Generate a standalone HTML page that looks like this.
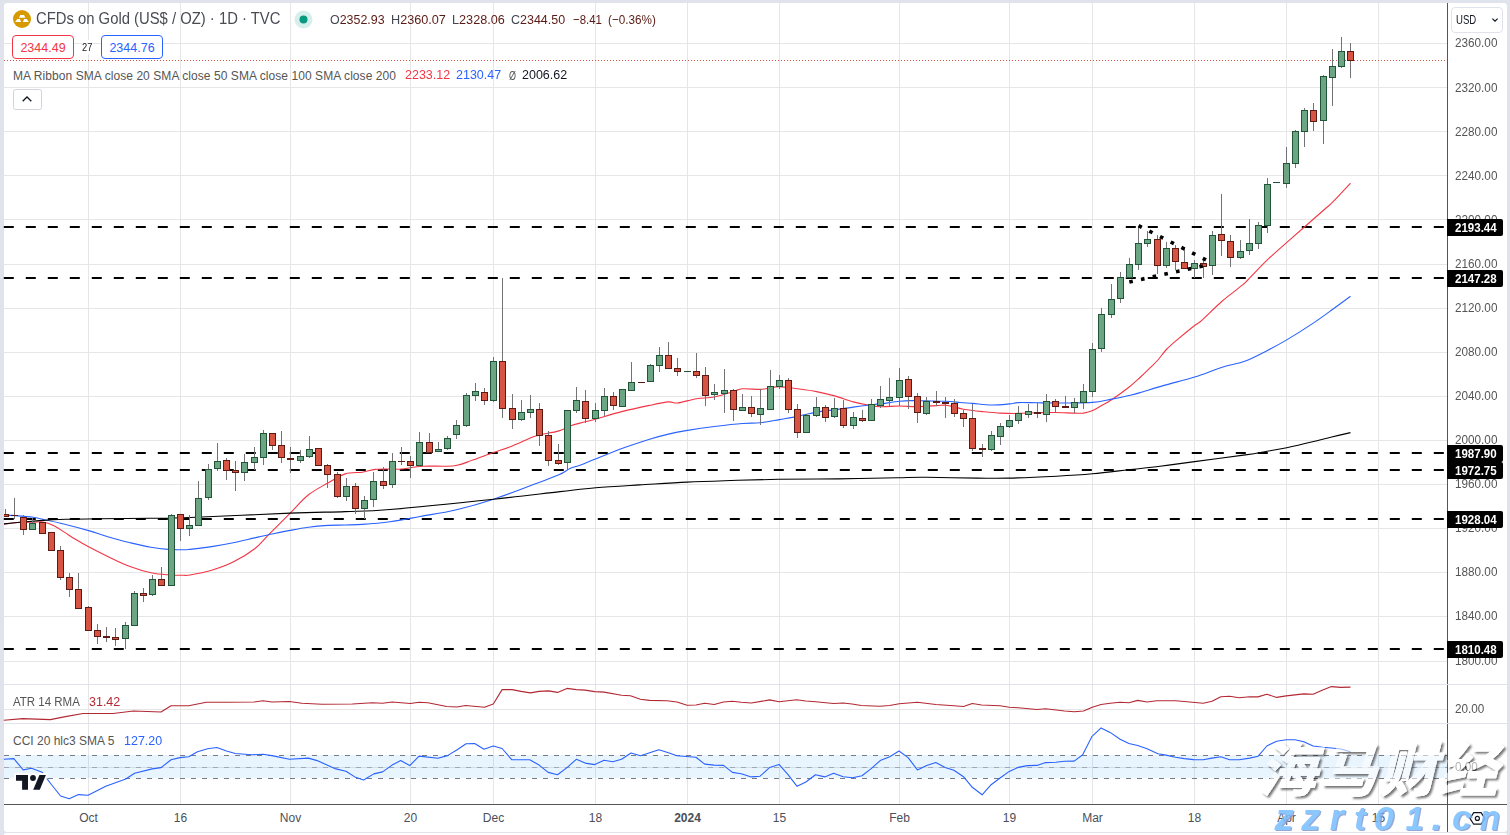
<!DOCTYPE html>
<html><head><meta charset="utf-8"><title>CFDs on Gold</title>
<style>
html,body{margin:0;padding:0}
body{width:1510px;height:835px;background:#e0e3eb;position:relative;overflow:hidden;font-family:"Liberation Sans",sans-serif;color:#131722}
#wrap{position:absolute;left:4px;top:3px;width:1503px;height:829px;background:#fff;border-radius:3px}
svg{position:absolute;left:0;top:0}
.pl{position:absolute;left:1455.4px;font-size:12px;line-height:16px;color:#555;white-space:nowrap;transform:scaleX(0.978);transform-origin:0 50%}
.lv{position:absolute;left:1447px;width:56px;height:17px;background:#000;color:#fff;font-size:12px;line-height:17px;font-weight:bold;text-align:left;border-radius:0 2px 2px 0;white-space:nowrap}
.lv span{display:inline-block;margin-left:8.4px;position:relative;top:0.7px;transform:scaleX(0.961);transform-origin:0 50%}
.tl{position:absolute;top:810px;width:60px;text-align:center;font-size:12px;line-height:16px;color:#4c4f59;white-space:nowrap}
.tl.b{font-weight:bold}
.v{color:#5b1a13}
.t{position:absolute;white-space:nowrap;transform-origin:0 50%}
</style></head><body>
<div id="wrap"></div><div style="position:absolute;left:4px;top:833px;width:1503px;height:2px;background:#fff;border-radius:3px 3px 0 0"></div>
<svg width="1510" height="835" viewBox="0 0 1510 835">
<rect x="88" y="3" width="1" height="801" fill="#e6e6e7"/>
<rect x="180" y="3" width="1" height="801" fill="#e6e6e7"/>
<rect x="290" y="3" width="1" height="801" fill="#e6e6e7"/>
<rect x="410" y="3" width="1" height="801" fill="#e6e6e7"/>
<rect x="493" y="3" width="1" height="801" fill="#e6e6e7"/>
<rect x="595" y="3" width="1" height="801" fill="#e6e6e7"/>
<rect x="687" y="3" width="1" height="801" fill="#e6e6e7"/>
<rect x="779" y="3" width="1" height="801" fill="#e6e6e7"/>
<rect x="899" y="3" width="1" height="801" fill="#e6e6e7"/>
<rect x="1009" y="3" width="1" height="801" fill="#e6e6e7"/>
<rect x="1092" y="3" width="1" height="801" fill="#e6e6e7"/>
<rect x="1194" y="3" width="1" height="801" fill="#e6e6e7"/>
<rect x="1286" y="3" width="1" height="801" fill="#e6e6e7"/>
<rect x="1378" y="3" width="1" height="801" fill="#e6e6e7"/>
<rect x="4" y="661" width="1443" height="1" fill="#e6e6e7"/>
<rect x="4" y="616" width="1443" height="1" fill="#e6e6e7"/>
<rect x="4" y="572" width="1443" height="1" fill="#e6e6e7"/>
<rect x="4" y="528" width="1443" height="1" fill="#e6e6e7"/>
<rect x="4" y="484" width="1443" height="1" fill="#e6e6e7"/>
<rect x="4" y="440" width="1443" height="1" fill="#e6e6e7"/>
<rect x="4" y="396" width="1443" height="1" fill="#e6e6e7"/>
<rect x="4" y="352" width="1443" height="1" fill="#e6e6e7"/>
<rect x="4" y="308" width="1443" height="1" fill="#e6e6e7"/>
<rect x="4" y="264" width="1443" height="1" fill="#e6e6e7"/>
<rect x="4" y="219" width="1443" height="1" fill="#e6e6e7"/>
<rect x="4" y="175" width="1443" height="1" fill="#e6e6e7"/>
<rect x="4" y="131" width="1443" height="1" fill="#e6e6e7"/>
<rect x="4" y="87" width="1443" height="1" fill="#e6e6e7"/>
<rect x="4" y="43" width="1443" height="1" fill="#e6e6e7"/>
<rect x="4" y="709" width="1443" height="1" fill="#e6e6e7"/>
<rect x="4" y="767" width="1443" height="1" fill="#e6e6e7"/>
<rect x="4" y="755" width="1443" height="22.9" fill="#2196f3" fill-opacity="0.1"/>
<line x1="4" y1="755.5" x2="1447" y2="755.5" stroke="#787b86" stroke-opacity="1" stroke-width="1" stroke-dasharray="5 6"/>
<line x1="4" y1="767.5" x2="1447" y2="767.5" stroke="#787b86" stroke-opacity="0.55" stroke-width="1" stroke-dasharray="5 6"/>
<line x1="4" y1="778.5" x2="1447" y2="778.5" stroke="#787b86" stroke-opacity="1" stroke-width="1" stroke-dasharray="5 6"/>
<rect x="4" y="684" width="1503" height="1" fill="#e0e3eb"/>
<rect x="4" y="723" width="1503" height="1" fill="#e0e3eb"/>
<line x1="4" y1="60.5" x2="1447" y2="60.5" stroke="#d75442" stroke-width="1" stroke-dasharray="1 2"/>
<line x1="3.8" y1="227" x2="1447" y2="227" stroke="#000" stroke-width="2" stroke-dasharray="10 12"/>
<line x1="3.8" y1="278" x2="1447" y2="278" stroke="#000" stroke-width="2" stroke-dasharray="10 12"/>
<line x1="3.8" y1="453" x2="1447" y2="453" stroke="#000" stroke-width="2" stroke-dasharray="10 12"/>
<line x1="3.8" y1="470" x2="1447" y2="470" stroke="#000" stroke-width="2" stroke-dasharray="10 12"/>
<line x1="3.8" y1="519" x2="1447" y2="519" stroke="#000" stroke-width="2" stroke-dasharray="10 12"/>
<line x1="3.8" y1="649" x2="1447" y2="649" stroke="#000" stroke-width="2" stroke-dasharray="10 12"/>
<path d="M4.0,524.2C6.7,523.9 15.2,522.6 20.0,522.3C24.8,522.0 29.1,522.2 33.0,522.2C36.9,522.2 39.6,521.4 43.1,522.0C46.6,522.6 50.3,524.0 53.9,525.7C57.5,527.4 61.1,530.1 64.7,532.4C68.3,534.7 71.4,536.9 75.4,539.3C79.4,541.7 83.2,543.9 88.6,546.8C94.0,549.7 101.0,553.3 107.8,556.5C114.6,559.7 122.1,563.5 129.3,566.2C136.5,568.9 144.4,571.3 150.9,572.7C157.4,574.1 162.7,574.4 168.1,574.8C173.5,575.2 179.5,575.3 183.2,575.3C186.8,575.3 185.3,575.8 190.0,575.0C194.7,574.2 204.4,572.4 211.6,570.3C218.8,568.1 225.9,565.7 233.1,562.1C240.3,558.5 248.8,553.3 254.7,548.7C260.6,544.1 262.8,540.6 268.7,534.7C274.6,528.8 283.6,519.8 290.2,513.1C296.8,506.5 302.2,499.8 308.5,494.8C314.8,489.8 321.8,486.5 327.9,483.0C334.0,479.5 339.4,475.7 345.2,473.9C350.9,472.1 357.4,472.9 362.4,472.2C367.4,471.4 370.7,469.9 375.3,469.4C379.9,468.9 385.6,469.1 390.0,469.0C394.4,468.9 396.1,469.5 401.6,469.0C407.1,468.5 414.3,466.7 423.1,466.2C431.9,465.7 446.1,466.8 454.4,465.8C462.7,464.8 466.2,462.2 472.7,460.0C479.2,457.8 487.0,454.7 493.6,452.4C500.2,450.1 506.1,448.4 512.3,446.0C518.5,443.6 526.4,439.6 530.9,437.8C535.4,436.0 534.8,436.1 539.5,435.0C544.2,433.9 553.8,432.4 558.9,430.9C564.0,429.4 566.5,427.4 570.0,426.1C573.5,424.8 575.8,424.2 580.0,423.1C584.2,422.0 588.3,421.1 595.4,419.2C602.5,417.2 613.4,413.7 622.6,411.4C631.8,409.1 642.8,406.8 650.4,405.2C658.0,403.6 664.0,402.3 668.5,401.9C673.0,401.5 672.8,403.5 677.5,403.0C682.2,402.5 690.4,399.7 696.5,398.7C702.6,397.7 708.2,398.2 714.4,397.0C720.5,395.8 728.7,393.0 733.4,391.6C738.1,390.2 737.9,389.2 742.4,388.8C746.9,388.4 755.9,389.5 760.5,389.4C765.1,389.2 766.9,388.4 770.0,387.9C773.1,387.4 774.8,386.5 779.4,386.6C784.0,386.8 791.3,388.0 797.5,388.8C803.7,389.6 810.3,390.4 816.5,391.6C822.7,392.8 828.5,394.2 834.6,395.9C840.7,397.6 847.8,400.4 853.3,401.9C858.8,403.4 863.3,404.2 867.8,405.0C872.3,405.8 875.2,406.5 880.5,406.7C885.8,406.9 893.2,406.0 899.4,406.0C905.6,406.0 911.3,406.8 917.5,406.7C923.7,406.6 931.8,405.9 936.5,405.6C941.2,405.4 942.5,405.0 945.6,405.2C948.7,405.4 952.0,406.3 955.0,407.0C958.0,407.7 958.9,408.5 963.4,409.3C967.9,410.1 976.1,411.0 982.3,411.6C988.5,412.2 994.4,412.8 1000.4,413.1C1006.4,413.4 1012.3,413.5 1018.5,413.4C1024.7,413.3 1031.3,412.8 1037.5,412.7C1043.7,412.6 1049.4,412.4 1055.6,412.5C1061.8,412.6 1069.9,413.0 1074.6,413.1C1079.3,413.2 1080.6,413.5 1083.6,413.1C1086.6,412.7 1089.7,411.9 1092.7,410.6C1095.7,409.4 1098.6,407.4 1101.7,405.6C1104.8,403.8 1107.1,402.9 1111.6,399.8C1116.1,396.8 1124.2,391.0 1128.9,387.3C1133.6,383.6 1136.5,380.7 1140.0,377.5C1143.5,374.3 1147.0,370.8 1150.0,367.9C1153.0,365.0 1155.2,363.1 1157.9,360.0C1160.6,356.9 1163.4,352.7 1166.4,349.5C1169.5,346.3 1171.5,344.6 1176.2,340.6C1180.9,336.6 1190.3,328.9 1194.6,325.5C1198.9,322.1 1197.6,324.1 1202.1,320.1C1206.6,316.1 1215.3,307.1 1221.7,301.5C1228.1,295.9 1236.1,290.3 1240.4,286.7C1244.8,283.1 1243.3,284.5 1247.8,280.0C1252.3,275.5 1260.6,266.4 1267.6,259.7C1274.6,253.0 1280.6,248.0 1290.0,239.7C1299.4,231.4 1316.7,216.2 1323.8,210.0C1330.8,203.8 1327.9,206.9 1332.4,202.4C1336.9,197.9 1347.5,186.4 1350.5,183.2" fill="none" stroke="#f23645" stroke-width="1.1"/>
<path d="M4.0,515.0C5.8,515.1 10.2,515.2 15.0,515.6C19.8,516.0 28.3,516.7 33.0,517.3C37.7,517.9 37.8,518.2 43.1,519.4C48.4,520.5 57.1,522.3 64.7,524.2C72.3,526.1 81.4,528.5 88.6,530.6C95.8,532.7 101.0,534.7 107.8,536.7C114.6,538.7 122.1,540.8 129.3,542.5C136.5,544.2 144.4,546.1 150.9,547.2C157.4,548.4 162.7,549.0 168.1,549.4C173.5,549.8 179.5,549.8 183.2,549.8C186.8,549.8 185.3,549.9 190.0,549.4C194.7,548.9 204.4,547.7 211.6,546.6C218.8,545.5 225.9,544.2 233.1,542.7C240.3,541.2 248.8,539.2 254.7,537.9C260.6,536.6 262.8,536.0 268.7,534.7C274.6,533.5 283.6,531.6 290.2,530.4C296.8,529.1 302.2,528.0 308.5,527.2C314.8,526.4 321.8,525.8 327.9,525.4C334.0,525.0 339.4,525.2 345.2,525.0C350.9,524.8 354.9,524.9 362.4,524.4C369.9,523.9 380.4,523.1 390.0,521.8C399.6,520.5 409.1,518.5 420.0,516.5C430.9,514.5 443.1,512.9 455.4,510.0C467.7,507.1 481.0,503.3 493.6,499.2C506.2,495.1 520.0,489.7 530.9,485.6C541.8,481.5 552.4,477.7 558.9,474.8C565.4,471.9 566.5,470.1 570.0,468.5C573.5,466.9 575.8,466.9 580.0,465.3C584.2,463.7 588.3,461.9 595.4,459.1C602.5,456.3 613.4,451.7 622.6,448.3C631.8,444.9 642.8,441.4 650.4,439.0C658.0,436.6 662.3,435.5 668.5,434.1C674.7,432.7 679.9,431.7 687.5,430.4C695.1,429.1 705.2,427.6 714.4,426.5C723.5,425.4 734.8,424.1 742.4,423.5C750.0,422.9 753.8,423.4 760.0,422.8C766.2,422.2 773.1,420.7 779.4,419.6C785.6,418.5 791.3,417.6 797.5,416.4C803.7,415.1 810.3,413.2 816.5,412.1C822.7,411.0 828.5,410.7 834.6,409.9C840.7,409.1 847.8,407.9 853.3,407.1C858.8,406.3 863.3,405.7 867.8,405.2C872.3,404.7 875.2,404.5 880.5,403.9C885.8,403.2 894.3,401.9 899.4,401.3C904.5,400.8 906.4,400.7 910.9,400.6C915.4,400.5 920.8,400.8 926.6,400.9C932.4,401.0 940.0,401.0 945.6,401.3C951.2,401.6 955.5,402.1 960.0,402.5C964.5,402.9 967.4,403.0 972.6,403.4C977.8,403.8 985.2,404.9 991.4,405.0C997.5,405.1 1005.0,404.3 1009.5,403.9C1014.0,403.5 1013.8,402.8 1018.5,402.6C1023.2,402.4 1029.7,402.7 1037.5,402.8C1045.3,402.9 1056.3,403.1 1065.5,403.0C1074.7,402.9 1085.0,403.0 1092.7,402.4C1100.4,401.8 1105.6,400.2 1111.6,399.1C1117.6,398.0 1124.2,396.6 1128.9,395.5C1133.6,394.4 1134.2,394.3 1140.0,392.6C1145.8,390.9 1154.9,388.0 1164.0,385.4C1173.1,382.8 1185.0,380.1 1194.6,377.1C1204.2,374.1 1213.0,370.2 1221.5,367.5C1230.0,364.8 1237.8,363.8 1245.4,361.0C1253.0,358.2 1260.1,354.2 1267.0,350.7C1273.9,347.2 1279.1,344.4 1286.7,339.9C1294.3,335.4 1305.0,328.6 1312.5,323.6C1320.0,318.6 1325.4,314.6 1331.7,310.0C1338.0,305.4 1347.4,298.6 1350.5,296.3" fill="none" stroke="#2962ff" stroke-width="1.1"/>
<path d="M4.0,523.9C6.7,523.6 14.1,522.8 20.0,522.3C25.9,521.8 31.9,521.1 39.5,520.6C47.1,520.1 55.7,519.6 65.8,519.3C75.9,519.0 86.0,519.0 100.0,518.8C114.0,518.6 135.0,518.5 150.0,518.3C165.0,518.1 166.6,518.4 190.0,517.5C213.4,516.6 264.3,514.1 290.2,513.1C316.1,512.1 328.6,512.2 345.2,511.6C361.8,511.0 365.3,511.6 390.0,509.5C414.7,507.4 465.3,502.2 493.6,499.2C521.9,496.2 543.0,493.5 560.0,491.6C577.0,489.7 582.5,488.8 595.8,487.7C609.0,486.6 624.3,485.8 639.5,484.9C654.7,484.0 671.9,482.8 687.1,482.1C702.3,481.4 715.6,481.0 730.8,480.5C746.0,480.0 760.6,479.6 778.5,479.3C796.4,479.0 818.2,479.2 838.1,478.9C858.0,478.6 883.1,478.0 897.7,477.7C912.3,477.4 912.2,477.2 925.5,477.3C938.8,477.4 963.3,478.0 977.2,478.1C991.1,478.2 995.8,478.4 1009.0,478.1C1022.2,477.8 1042.7,476.9 1056.6,476.2C1070.5,475.5 1080.5,474.9 1092.4,473.8C1104.3,472.7 1116.8,471.1 1128.1,469.8C1139.4,468.5 1148.9,467.6 1160.0,466.2C1171.1,464.8 1180.4,463.5 1194.6,461.6C1208.8,459.7 1233.3,456.6 1245.4,454.9C1257.5,453.2 1260.1,452.5 1267.0,451.3C1273.9,450.1 1279.1,449.3 1286.7,447.7C1294.3,446.1 1305.0,443.6 1312.5,441.8C1320.0,440.0 1325.4,438.5 1331.7,437.0C1338.0,435.5 1347.4,433.3 1350.5,432.6" fill="none" stroke="#000" stroke-width="1.1"/>
<path d="M5.5,509V517M14.5,498V519M23.5,515V535M32.5,518V530M42.5,522V534M51.5,532V551M60.5,546V580M69.5,573V597M78.5,573V609M88.5,606V631M97.5,624V644M106.5,627V642M115.5,628V646M125.5,622V649M134.5,591V626M143.5,588V602M152.5,575V596M161.5,567V586M171.5,514V586M180.5,514V541M189.5,515V536M198.5,481V526M208.5,464V500M217.5,443V471M226.5,458V480M235.5,461V491M244.5,454V481M254.5,447V470M263.5,430V465M272.5,433V450M281.5,431V463M290.5,447V473M300.5,450V463M309.5,436V458M318.5,448V466M327.5,464V488M337.5,472V498M346.5,478V501M355.5,483V514M364.5,496V519M373.5,472V507M383.5,467V489M392.5,453V488M401.5,447V465M410.5,456V478M419.5,432V466M429.5,433V453M438.5,442V452M447.5,436V450M456.5,420V439M466.5,393V427M475.5,383V401M484.5,388V405M493.5,357V402M502.5,278V418M512.5,394V429M521.5,400V421M530.5,395V418M539.5,403V446M548.5,431V466M558.5,444V465M567.5,410V470M576.5,387V413M585.5,390V423M595.5,403V422M604.5,388V416M613.5,392V410M622.5,389V407M631.5,362V391M641.5,382V383M650.5,364V382M659.5,347V372M668.5,342V369M677.5,358V376M687.5,371V372M696.5,353V378M705.5,367V406M714.5,384V400M724.5,369V413M733.5,389V421M742.5,394V411M751.5,396V417M760.5,389V425M770.5,370V410M779.5,375V389M788.5,378V413M797.5,404V438M806.5,414V433M816.5,397V417M825.5,405V422M834.5,398V418M843.5,400V428M853.5,412V429M862.5,410V422M871.5,399V421M880.5,386V408M889.5,378V406M899.5,368V406M908.5,376V409M917.5,393V423M926.5,397V415M936.5,391V406M945.5,397V418M954.5,399V417M963.5,410V427M972.5,404V451M982.5,444V457M991.5,431V451M1000.5,423V445M1009.5,415V428M1018.5,406V424M1028.5,404V418M1037.5,402V418M1046.5,394V422M1055.5,399V412M1065.5,396V408M1074.5,398V413M1083.5,384V409M1092.5,343V397M1101.5,308V352M1111.5,284V318M1120.5,272V303M1129.5,258V278M1138.5,226V270M1147.5,231V247M1157.5,235V274M1166.5,242V268M1175.5,245V270M1184.5,248V269M1194.5,260V278M1203.5,259V278M1212.5,231V275M1221.5,194V256M1230.5,235V267M1240.5,240V259M1249.5,219V255M1258.5,222V249M1267.5,178V233M1276.5,182V183M1286.5,147V188M1295.5,130V168M1304.5,108V147M1313.5,103V131M1323.5,75V144M1332.5,49V106M1341.5,37V68M1350.5,43V78" stroke="#737375" stroke-width="1" fill="none"/>
<rect x="4" y="514" width="5" height="3" fill="#5b1a13"/>
<rect x="11" y="515" width="7" height="1" fill="#5b1a13"/>
<rect x="20" y="517" width="7" height="13" fill="#5b1a13"/>
<rect x="29" y="523" width="7" height="7" fill="#225437"/>
<rect x="39" y="522" width="7" height="12" fill="#5b1a13"/>
<rect x="48" y="532" width="7" height="19" fill="#5b1a13"/>
<rect x="57" y="550" width="7" height="28" fill="#5b1a13"/>
<rect x="66" y="577" width="7" height="13" fill="#5b1a13"/>
<rect x="75" y="589" width="7" height="20" fill="#5b1a13"/>
<rect x="85" y="607" width="7" height="24" fill="#5b1a13"/>
<rect x="94" y="630" width="7" height="7" fill="#5b1a13"/>
<rect x="103" y="636" width="7" height="2" fill="#5b1a13"/>
<rect x="112" y="637" width="7" height="3" fill="#5b1a13"/>
<rect x="122" y="625" width="7" height="14" fill="#225437"/>
<rect x="131" y="593" width="7" height="33" fill="#225437"/>
<rect x="140" y="593" width="7" height="3" fill="#5b1a13"/>
<rect x="149" y="579" width="7" height="16" fill="#225437"/>
<rect x="158" y="579" width="7" height="7" fill="#5b1a13"/>
<rect x="168" y="515" width="7" height="71" fill="#225437"/>
<rect x="177" y="514" width="7" height="15" fill="#5b1a13"/>
<rect x="186" y="525" width="7" height="4" fill="#225437"/>
<rect x="195" y="498" width="7" height="28" fill="#225437"/>
<rect x="205" y="469" width="7" height="29" fill="#225437"/>
<rect x="214" y="461" width="7" height="8" fill="#225437"/>
<rect x="223" y="460" width="7" height="11" fill="#5b1a13"/>
<rect x="232" y="470" width="7" height="3" fill="#5b1a13"/>
<rect x="241" y="462" width="7" height="11" fill="#225437"/>
<rect x="251" y="457" width="7" height="6" fill="#225437"/>
<rect x="260" y="433" width="7" height="25" fill="#225437"/>
<rect x="269" y="433" width="7" height="13" fill="#5b1a13"/>
<rect x="278" y="445" width="7" height="13" fill="#5b1a13"/>
<rect x="287" y="458" width="7" height="2" fill="#5b1a13"/>
<rect x="297" y="456" width="7" height="5" fill="#225437"/>
<rect x="306" y="449" width="7" height="8" fill="#225437"/>
<rect x="315" y="448" width="7" height="18" fill="#5b1a13"/>
<rect x="324" y="465" width="7" height="10" fill="#5b1a13"/>
<rect x="334" y="474" width="7" height="23" fill="#5b1a13"/>
<rect x="343" y="486" width="7" height="11" fill="#225437"/>
<rect x="352" y="486" width="7" height="23" fill="#5b1a13"/>
<rect x="361" y="500" width="7" height="9" fill="#225437"/>
<rect x="370" y="481" width="7" height="19" fill="#225437"/>
<rect x="380" y="481" width="7" height="5" fill="#5b1a13"/>
<rect x="389" y="461" width="7" height="24" fill="#225437"/>
<rect x="398" y="461" width="7" height="1" fill="#5b1a13"/>
<rect x="407" y="461" width="7" height="5" fill="#5b1a13"/>
<rect x="416" y="442" width="7" height="24" fill="#225437"/>
<rect x="426" y="442" width="7" height="11" fill="#5b1a13"/>
<rect x="435" y="449" width="7" height="3" fill="#225437"/>
<rect x="444" y="438" width="7" height="11" fill="#225437"/>
<rect x="453" y="425" width="7" height="10" fill="#225437"/>
<rect x="463" y="395" width="7" height="31" fill="#225437"/>
<rect x="472" y="391" width="7" height="5" fill="#225437"/>
<rect x="481" y="392" width="7" height="9" fill="#5b1a13"/>
<rect x="490" y="361" width="7" height="40" fill="#225437"/>
<rect x="499" y="361" width="7" height="48" fill="#5b1a13"/>
<rect x="509" y="408" width="7" height="12" fill="#5b1a13"/>
<rect x="518" y="412" width="7" height="8" fill="#225437"/>
<rect x="527" y="409" width="7" height="4" fill="#225437"/>
<rect x="536" y="409" width="7" height="27" fill="#5b1a13"/>
<rect x="545" y="435" width="7" height="26" fill="#5b1a13"/>
<rect x="555" y="460" width="7" height="4" fill="#5b1a13"/>
<rect x="564" y="410" width="7" height="53" fill="#225437"/>
<rect x="573" y="400" width="7" height="11" fill="#225437"/>
<rect x="582" y="401" width="7" height="18" fill="#5b1a13"/>
<rect x="592" y="410" width="7" height="9" fill="#225437"/>
<rect x="601" y="396" width="7" height="15" fill="#225437"/>
<rect x="610" y="396" width="7" height="10" fill="#5b1a13"/>
<rect x="619" y="389" width="7" height="18" fill="#225437"/>
<rect x="628" y="382" width="7" height="9" fill="#225437"/>
<rect x="638" y="382" width="7" height="1" fill="#5b1a13"/>
<rect x="647" y="365" width="7" height="17" fill="#225437"/>
<rect x="656" y="355" width="7" height="11" fill="#225437"/>
<rect x="665" y="355" width="7" height="14" fill="#5b1a13"/>
<rect x="674" y="368" width="7" height="4" fill="#5b1a13"/>
<rect x="684" y="371" width="7" height="1" fill="#225437"/>
<rect x="693" y="371" width="7" height="5" fill="#5b1a13"/>
<rect x="702" y="375" width="7" height="21" fill="#5b1a13"/>
<rect x="711" y="392" width="7" height="3" fill="#225437"/>
<rect x="721" y="390" width="7" height="4" fill="#225437"/>
<rect x="730" y="390" width="7" height="20" fill="#5b1a13"/>
<rect x="739" y="407" width="7" height="4" fill="#225437"/>
<rect x="748" y="407" width="7" height="7" fill="#5b1a13"/>
<rect x="757" y="408" width="7" height="7" fill="#225437"/>
<rect x="767" y="386" width="7" height="24" fill="#225437"/>
<rect x="776" y="380" width="7" height="7" fill="#225437"/>
<rect x="785" y="380" width="7" height="30" fill="#5b1a13"/>
<rect x="794" y="409" width="7" height="24" fill="#5b1a13"/>
<rect x="803" y="415" width="7" height="18" fill="#225437"/>
<rect x="813" y="407" width="7" height="9" fill="#225437"/>
<rect x="822" y="407" width="7" height="11" fill="#5b1a13"/>
<rect x="831" y="408" width="7" height="9" fill="#225437"/>
<rect x="840" y="408" width="7" height="18" fill="#5b1a13"/>
<rect x="850" y="417" width="7" height="9" fill="#225437"/>
<rect x="859" y="418" width="7" height="3" fill="#5b1a13"/>
<rect x="868" y="404" width="7" height="17" fill="#225437"/>
<rect x="877" y="399" width="7" height="7" fill="#225437"/>
<rect x="886" y="397" width="7" height="4" fill="#225437"/>
<rect x="896" y="380" width="7" height="18" fill="#225437"/>
<rect x="905" y="379" width="7" height="18" fill="#5b1a13"/>
<rect x="914" y="396" width="7" height="17" fill="#5b1a13"/>
<rect x="923" y="401" width="7" height="13" fill="#225437"/>
<rect x="933" y="401" width="7" height="2" fill="#5b1a13"/>
<rect x="942" y="402" width="7" height="2" fill="#5b1a13"/>
<rect x="951" y="403" width="7" height="11" fill="#5b1a13"/>
<rect x="960" y="413" width="7" height="6" fill="#5b1a13"/>
<rect x="969" y="418" width="7" height="31" fill="#5b1a13"/>
<rect x="979" y="448" width="7" height="2" fill="#5b1a13"/>
<rect x="988" y="435" width="7" height="15" fill="#225437"/>
<rect x="997" y="426" width="7" height="11" fill="#225437"/>
<rect x="1006" y="420" width="7" height="7" fill="#225437"/>
<rect x="1015" y="413" width="7" height="8" fill="#225437"/>
<rect x="1025" y="411" width="7" height="4" fill="#225437"/>
<rect x="1034" y="412" width="7" height="2" fill="#5b1a13"/>
<rect x="1043" y="401" width="7" height="14" fill="#225437"/>
<rect x="1052" y="401" width="7" height="6" fill="#5b1a13"/>
<rect x="1062" y="406" width="7" height="2" fill="#5b1a13"/>
<rect x="1071" y="402" width="7" height="6" fill="#225437"/>
<rect x="1080" y="391" width="7" height="12" fill="#225437"/>
<rect x="1089" y="349" width="7" height="43" fill="#225437"/>
<rect x="1098" y="314" width="7" height="35" fill="#225437"/>
<rect x="1108" y="299" width="7" height="16" fill="#225437"/>
<rect x="1117" y="277" width="7" height="22" fill="#225437"/>
<rect x="1126" y="264" width="7" height="14" fill="#225437"/>
<rect x="1135" y="243" width="7" height="22" fill="#225437"/>
<rect x="1144" y="239" width="7" height="5" fill="#225437"/>
<rect x="1154" y="239" width="7" height="27" fill="#5b1a13"/>
<rect x="1163" y="248" width="7" height="18" fill="#225437"/>
<rect x="1172" y="248" width="7" height="14" fill="#5b1a13"/>
<rect x="1181" y="262" width="7" height="7" fill="#5b1a13"/>
<rect x="1191" y="263" width="7" height="6" fill="#225437"/>
<rect x="1200" y="263" width="7" height="4" fill="#5b1a13"/>
<rect x="1209" y="235" width="7" height="31" fill="#225437"/>
<rect x="1218" y="234" width="7" height="7" fill="#5b1a13"/>
<rect x="1227" y="241" width="7" height="17" fill="#5b1a13"/>
<rect x="1237" y="251" width="7" height="7" fill="#225437"/>
<rect x="1246" y="243" width="7" height="8" fill="#225437"/>
<rect x="1255" y="225" width="7" height="19" fill="#225437"/>
<rect x="1264" y="184" width="7" height="42" fill="#225437"/>
<rect x="1273" y="182" width="7" height="1" fill="#225437"/>
<rect x="1283" y="163" width="7" height="21" fill="#225437"/>
<rect x="1292" y="131" width="7" height="33" fill="#225437"/>
<rect x="1301" y="110" width="7" height="22" fill="#225437"/>
<rect x="1310" y="110" width="7" height="12" fill="#5b1a13"/>
<rect x="1320" y="76" width="7" height="45" fill="#225437"/>
<rect x="1329" y="66" width="7" height="12" fill="#225437"/>
<rect x="1338" y="51" width="7" height="16" fill="#225437"/>
<rect x="1347" y="51" width="7" height="10" fill="#5b1a13"/>
<rect x="4" y="515" width="4" height="1" fill="#d75442"/>
<rect x="21" y="518" width="5" height="11" fill="#d75442"/>
<rect x="30" y="524" width="5" height="5" fill="#6ba583"/>
<rect x="40" y="523" width="5" height="10" fill="#d75442"/>
<rect x="49" y="533" width="5" height="17" fill="#d75442"/>
<rect x="58" y="551" width="5" height="26" fill="#d75442"/>
<rect x="67" y="578" width="5" height="11" fill="#d75442"/>
<rect x="76" y="590" width="5" height="18" fill="#d75442"/>
<rect x="86" y="608" width="5" height="22" fill="#d75442"/>
<rect x="95" y="631" width="5" height="5" fill="#d75442"/>
<rect x="113" y="638" width="5" height="1" fill="#d75442"/>
<rect x="123" y="626" width="5" height="12" fill="#6ba583"/>
<rect x="132" y="594" width="5" height="31" fill="#6ba583"/>
<rect x="141" y="594" width="5" height="1" fill="#d75442"/>
<rect x="150" y="580" width="5" height="14" fill="#6ba583"/>
<rect x="159" y="580" width="5" height="5" fill="#d75442"/>
<rect x="169" y="516" width="5" height="69" fill="#6ba583"/>
<rect x="178" y="515" width="5" height="13" fill="#d75442"/>
<rect x="187" y="526" width="5" height="2" fill="#6ba583"/>
<rect x="196" y="499" width="5" height="26" fill="#6ba583"/>
<rect x="206" y="470" width="5" height="27" fill="#6ba583"/>
<rect x="215" y="462" width="5" height="6" fill="#6ba583"/>
<rect x="224" y="461" width="5" height="9" fill="#d75442"/>
<rect x="233" y="471" width="5" height="1" fill="#d75442"/>
<rect x="242" y="463" width="5" height="9" fill="#6ba583"/>
<rect x="252" y="458" width="5" height="4" fill="#6ba583"/>
<rect x="261" y="434" width="5" height="23" fill="#6ba583"/>
<rect x="270" y="434" width="5" height="11" fill="#d75442"/>
<rect x="279" y="446" width="5" height="11" fill="#d75442"/>
<rect x="298" y="457" width="5" height="3" fill="#6ba583"/>
<rect x="307" y="450" width="5" height="6" fill="#6ba583"/>
<rect x="316" y="449" width="5" height="16" fill="#d75442"/>
<rect x="325" y="466" width="5" height="8" fill="#d75442"/>
<rect x="335" y="475" width="5" height="21" fill="#d75442"/>
<rect x="344" y="487" width="5" height="9" fill="#6ba583"/>
<rect x="353" y="487" width="5" height="21" fill="#d75442"/>
<rect x="362" y="501" width="5" height="7" fill="#6ba583"/>
<rect x="371" y="482" width="5" height="17" fill="#6ba583"/>
<rect x="381" y="482" width="5" height="3" fill="#d75442"/>
<rect x="390" y="462" width="5" height="22" fill="#6ba583"/>
<rect x="408" y="462" width="5" height="3" fill="#d75442"/>
<rect x="417" y="443" width="5" height="22" fill="#6ba583"/>
<rect x="427" y="443" width="5" height="9" fill="#d75442"/>
<rect x="436" y="450" width="5" height="1" fill="#6ba583"/>
<rect x="445" y="439" width="5" height="9" fill="#6ba583"/>
<rect x="454" y="426" width="5" height="8" fill="#6ba583"/>
<rect x="464" y="396" width="5" height="29" fill="#6ba583"/>
<rect x="473" y="392" width="5" height="3" fill="#6ba583"/>
<rect x="482" y="393" width="5" height="7" fill="#d75442"/>
<rect x="491" y="362" width="5" height="38" fill="#6ba583"/>
<rect x="500" y="362" width="5" height="46" fill="#d75442"/>
<rect x="510" y="409" width="5" height="10" fill="#d75442"/>
<rect x="519" y="413" width="5" height="6" fill="#6ba583"/>
<rect x="528" y="410" width="5" height="2" fill="#6ba583"/>
<rect x="537" y="410" width="5" height="25" fill="#d75442"/>
<rect x="546" y="436" width="5" height="24" fill="#d75442"/>
<rect x="556" y="461" width="5" height="2" fill="#d75442"/>
<rect x="565" y="411" width="5" height="51" fill="#6ba583"/>
<rect x="574" y="401" width="5" height="9" fill="#6ba583"/>
<rect x="583" y="402" width="5" height="16" fill="#d75442"/>
<rect x="593" y="411" width="5" height="7" fill="#6ba583"/>
<rect x="602" y="397" width="5" height="13" fill="#6ba583"/>
<rect x="611" y="397" width="5" height="8" fill="#d75442"/>
<rect x="620" y="390" width="5" height="16" fill="#6ba583"/>
<rect x="629" y="383" width="5" height="7" fill="#6ba583"/>
<rect x="648" y="366" width="5" height="15" fill="#6ba583"/>
<rect x="657" y="356" width="5" height="9" fill="#6ba583"/>
<rect x="666" y="356" width="5" height="12" fill="#d75442"/>
<rect x="675" y="369" width="5" height="2" fill="#d75442"/>
<rect x="694" y="372" width="5" height="3" fill="#d75442"/>
<rect x="703" y="376" width="5" height="19" fill="#d75442"/>
<rect x="712" y="393" width="5" height="1" fill="#6ba583"/>
<rect x="722" y="391" width="5" height="2" fill="#6ba583"/>
<rect x="731" y="391" width="5" height="18" fill="#d75442"/>
<rect x="740" y="408" width="5" height="2" fill="#6ba583"/>
<rect x="749" y="408" width="5" height="5" fill="#d75442"/>
<rect x="758" y="409" width="5" height="5" fill="#6ba583"/>
<rect x="768" y="387" width="5" height="22" fill="#6ba583"/>
<rect x="777" y="381" width="5" height="5" fill="#6ba583"/>
<rect x="786" y="381" width="5" height="28" fill="#d75442"/>
<rect x="795" y="410" width="5" height="22" fill="#d75442"/>
<rect x="804" y="416" width="5" height="16" fill="#6ba583"/>
<rect x="814" y="408" width="5" height="7" fill="#6ba583"/>
<rect x="823" y="408" width="5" height="9" fill="#d75442"/>
<rect x="832" y="409" width="5" height="7" fill="#6ba583"/>
<rect x="841" y="409" width="5" height="16" fill="#d75442"/>
<rect x="851" y="418" width="5" height="7" fill="#6ba583"/>
<rect x="860" y="419" width="5" height="1" fill="#d75442"/>
<rect x="869" y="405" width="5" height="15" fill="#6ba583"/>
<rect x="878" y="400" width="5" height="5" fill="#6ba583"/>
<rect x="887" y="398" width="5" height="2" fill="#6ba583"/>
<rect x="897" y="381" width="5" height="16" fill="#6ba583"/>
<rect x="906" y="380" width="5" height="16" fill="#d75442"/>
<rect x="915" y="397" width="5" height="15" fill="#d75442"/>
<rect x="924" y="402" width="5" height="11" fill="#6ba583"/>
<rect x="952" y="404" width="5" height="9" fill="#d75442"/>
<rect x="961" y="414" width="5" height="4" fill="#d75442"/>
<rect x="970" y="419" width="5" height="29" fill="#d75442"/>
<rect x="989" y="436" width="5" height="13" fill="#6ba583"/>
<rect x="998" y="427" width="5" height="9" fill="#6ba583"/>
<rect x="1007" y="421" width="5" height="5" fill="#6ba583"/>
<rect x="1016" y="414" width="5" height="6" fill="#6ba583"/>
<rect x="1026" y="412" width="5" height="2" fill="#6ba583"/>
<rect x="1044" y="402" width="5" height="12" fill="#6ba583"/>
<rect x="1053" y="402" width="5" height="4" fill="#d75442"/>
<rect x="1072" y="403" width="5" height="4" fill="#6ba583"/>
<rect x="1081" y="392" width="5" height="10" fill="#6ba583"/>
<rect x="1090" y="350" width="5" height="41" fill="#6ba583"/>
<rect x="1099" y="315" width="5" height="33" fill="#6ba583"/>
<rect x="1109" y="300" width="5" height="14" fill="#6ba583"/>
<rect x="1118" y="278" width="5" height="20" fill="#6ba583"/>
<rect x="1127" y="265" width="5" height="12" fill="#6ba583"/>
<rect x="1136" y="244" width="5" height="20" fill="#6ba583"/>
<rect x="1145" y="240" width="5" height="3" fill="#6ba583"/>
<rect x="1155" y="240" width="5" height="25" fill="#d75442"/>
<rect x="1164" y="249" width="5" height="16" fill="#6ba583"/>
<rect x="1173" y="249" width="5" height="12" fill="#d75442"/>
<rect x="1182" y="263" width="5" height="5" fill="#d75442"/>
<rect x="1192" y="264" width="5" height="4" fill="#6ba583"/>
<rect x="1201" y="264" width="5" height="2" fill="#d75442"/>
<rect x="1210" y="236" width="5" height="29" fill="#6ba583"/>
<rect x="1219" y="235" width="5" height="5" fill="#d75442"/>
<rect x="1228" y="242" width="5" height="15" fill="#d75442"/>
<rect x="1238" y="252" width="5" height="5" fill="#6ba583"/>
<rect x="1247" y="244" width="5" height="6" fill="#6ba583"/>
<rect x="1256" y="226" width="5" height="17" fill="#6ba583"/>
<rect x="1265" y="185" width="5" height="40" fill="#6ba583"/>
<rect x="1284" y="164" width="5" height="19" fill="#6ba583"/>
<rect x="1293" y="132" width="5" height="31" fill="#6ba583"/>
<rect x="1302" y="111" width="5" height="20" fill="#6ba583"/>
<rect x="1311" y="111" width="5" height="10" fill="#d75442"/>
<rect x="1321" y="77" width="5" height="43" fill="#6ba583"/>
<rect x="1330" y="67" width="5" height="10" fill="#6ba583"/>
<rect x="1339" y="52" width="5" height="14" fill="#6ba583"/>
<rect x="1348" y="52" width="5" height="8" fill="#d75442"/>
<line x1="1138.6" y1="225.7" x2="1206" y2="259.9" stroke="#000" stroke-width="3.6" stroke-dasharray="3.6 8.4"/>
<line x1="1129.3" y1="281.9" x2="1203.2" y2="266" stroke="#000" stroke-width="3.6" stroke-dasharray="3.6 8.35"/>
<path d="M3.8,720.3L22.6,718.6L50.3,719.6L65.4,716.6L83.0,713.5L113.2,713.5L133.4,711.0L161.0,712.0L171.1,705.7L188.7,705.7L206.3,702.2L226.5,702.2L254.2,702.0L263.0,700.7L271.8,702.0L289.4,701.5L302.0,703.2L322.0,704.2L352.3,704.0L372.4,702.7L382.6,703.2L392.1,702.0L410.3,703.5L419.1,702.2L427.9,702.7L446.7,706.5L456.8,707.0L465.6,705.5L484.5,707.2L493.3,704.0L502.1,689.6L512.2,689.6L521.0,691.4L530.3,692.9L539.1,691.4L548.7,690.9L557.5,692.4L567.0,688.4L576.3,689.6L585.1,690.1L594.7,691.6L604.0,692.1L621.6,695.2L630.4,695.7L640.5,699.2L649.3,700.4L666.9,700.7L677.0,702.0L687.1,705.2L695.9,705.0L704.7,703.2L714.2,704.5L723.5,702.0L732.4,701.2L741.2,702.2L751.3,703.0L769.7,699.9L779.0,701.7L796.6,699.7L805.9,701.0L815.5,701.7L833.6,703.5L843.2,703.0L852.0,704.0L861.3,705.5L879.7,706.2L889.7,705.5L899.3,703.7L917.4,702.2L935.8,704.5L953.9,705.7L963.5,706.5L972.3,703.5L981.6,705.0L1000.0,705.7L1009.3,707.2L1018.1,707.7L1036.9,709.5L1045.7,708.8L1064.6,711.0L1074.2,711.8L1083.5,711.0L1092.3,707.2L1101.1,704.5L1110.1,703.2L1120.1,702.2L1128.9,702.7L1137.7,700.4L1147.1,702.0L1156.6,700.7L1175.5,700.7L1184.3,701.5L1203.2,703.2L1212.0,701.2L1220.8,696.7L1229.6,696.2L1239.2,697.7L1249.7,696.7L1258.0,696.9L1266.8,694.2L1276.6,697.4L1286.2,695.9L1303.8,693.9L1313.1,694.2L1322.7,689.9L1331.5,686.6L1340.8,687.4L1350.5,687.1" fill="none" stroke="#b22833" stroke-width="1.1" stroke-linejoin="round"/>
<path d="M3.8,759.3L13.8,758.6L23.2,769.9L31.5,768.3L42.2,772.3L51.4,784.5L60.6,796.0L69.2,798.8L78.5,794.6L88.1,795.3L105.7,786.3L125.8,779.0L134.6,773.2L152.2,768.9L161.0,767.6L171.1,759.8L179.9,757.6L188.7,756.8L197.5,751.8L207.6,748.8L216.9,747.5L226.5,751.0L235.3,753.5L251.6,754.8L263.0,754.3L271.8,755.6L289.4,759.3L308.3,758.1L317.1,760.6L335.9,768.9L346.0,771.2L354.8,776.9L363.6,780.0L373.8,773.9L382.6,771.9L392.1,765.1L400.7,760.6L409.8,765.6L419.1,756.1L437.9,758.3L447.5,755.6L456.8,750.0L466.1,743.7L474.7,743.5L484.0,749.3L493.3,746.0L502.1,748.5L511.7,759.6L529.8,759.8L539.1,765.1L548.2,772.4L557.5,774.7L567.0,767.6L576.3,759.3L585.1,763.1L594.7,764.6L604.0,760.3L612.8,761.8L621.6,759.3L631.0,753.0L640.5,755.8L658.9,749.8L667.7,752.5L677.0,755.8L695.9,757.3L704.7,764.1L714.2,765.1L723.5,765.4L732.4,772.4L741.2,773.7L751.3,776.9L760.1,776.2L769.7,767.4L779.0,764.4L787.8,774.4L797.1,786.3L805.9,782.0L815.5,774.7L824.8,776.9L833.6,773.2L843.2,776.7L852.5,777.7L862.0,775.7L870.9,768.9L880.2,760.6L889.7,756.8L899.0,751.0L908.1,757.6L917.4,769.9L926.7,765.6L935.8,762.6L945.1,767.4L953.9,770.2L963.5,776.7L972.3,787.3L982.1,794.8L991.1,784.7L1000.4,777.7L1009.3,771.4L1018.1,767.4L1027.4,765.6L1036.9,765.4L1045.7,762.6L1055.8,762.3L1064.6,761.3L1074.2,761.1L1082.7,754.8L1091.8,736.7L1101.1,727.9L1110.1,732.4L1120.1,739.2L1128.9,743.5L1137.7,745.5L1147.1,748.8L1157.9,753.8L1165.9,755.1L1175.5,757.3L1184.3,758.6L1193.6,759.6L1203.2,759.8L1212.0,758.1L1220.8,756.8L1229.6,759.8L1239.2,759.8L1249.7,758.1L1258.0,756.3L1266.8,746.0L1276.6,741.2L1286.2,739.7L1295.0,739.7L1303.8,741.7L1313.1,746.0L1322.7,747.3L1331.5,748.0L1340.8,749.0L1350.5,751.8" fill="none" stroke="#2962ff" stroke-width="1.1" stroke-linejoin="round"/>
<rect x="1447" y="3" width="1" height="829" fill="#555"/>
<rect x="4" y="804" width="1503" height="1" fill="#555"/>
<rect x="4" y="684" width="1503" height="1" fill="#e0e3eb"/>
<rect x="4" y="723" width="1503" height="1" fill="#e0e3eb"/>
</svg>
<div class="pl" style="top:653.2px">1800.00</div><div class="pl" style="top:608.3px">1840.00</div><div class="pl" style="top:564.3px">1880.00</div><div class="pl" style="top:520.2px">1920.00</div><div class="pl" style="top:476.1px">1960.00</div><div class="pl" style="top:432.0px">2000.00</div><div class="pl" style="top:388.0px">2040.00</div><div class="pl" style="top:343.9px">2080.00</div><div class="pl" style="top:299.8px">2120.00</div><div class="pl" style="top:255.8px">2160.00</div><div class="pl" style="top:211.7px">2200.00</div><div class="pl" style="top:167.6px">2240.00</div><div class="pl" style="top:123.5px">2280.00</div><div class="pl" style="top:79.5px">2320.00</div><div class="pl" style="top:35.4px">2360.00</div><div class="pl" style="top:700.5px">20.00</div><div class="pl" style="top:758.5px">0.00</div><div class="lv" style="top:219px"><span>2193.44</span></div><div class="lv" style="top:270px"><span>2147.28</span></div><div class="lv" style="top:445px"><span>1987.90</span></div><div class="lv" style="top:462px"><span>1972.75</span></div><div class="lv" style="top:511px"><span>1928.04</span></div><div class="lv" style="top:641px"><span>1810.48</span></div><div class="tl" style="left:58.5px">Oct</div><div class="tl" style="left:150.5px">16</div><div class="tl" style="left:260.5px">Nov</div><div class="tl" style="left:380.5px">20</div><div class="tl" style="left:463.5px">Dec</div><div class="tl" style="left:565.5px">18</div><div class="tl b" style="left:657.5px">2024</div><div class="tl" style="left:749.5px">15</div><div class="tl" style="left:869.5px">Feb</div><div class="tl" style="left:979.5px">19</div><div class="tl" style="left:1062.5px">Mar</div><div class="tl" style="left:1164.5px">18</div><div class="tl" style="left:1256.5px">Apr</div><div class="tl" style="left:1348.5px">15</div>
<!-- gold icon -->
<svg style="left:13px;top:10px" width="18" height="18" viewBox="0 0 18 18"><circle cx="9" cy="9" r="9" fill="#d69a00"/><path d="M7.3 4.9h3.8l1.2 2.9H5.9zM4.3 8.9h2.6l1.2 3.1H2.15zM11.1 8.9h2.6l2.15 3.1H9.9z" fill="#fff"/></svg>
<div class="t" style="left:35.6px;top:8.2px;font-size:16px;line-height:22px;transform:scaleX(0.9266);color:#4a4c55">CFDs on Gold (US$ / OZ) · 1D · TVC</div>
<!-- status dot -->
<svg style="left:294px;top:10px" width="19" height="19" viewBox="0 0 19 19"><circle cx="9.5" cy="9.5" r="9" fill="#089981" fill-opacity="0.16"/><circle cx="9.5" cy="9.5" r="4" fill="#089981"/></svg>
<div class="t" style="left:329.8px;top:11.5px;font-size:13px;line-height:16px;transform:scaleX(0.9562);color:#434651">O<span class="v">2352.93</span></div>
<div class="t" style="left:391.2px;top:11.5px;font-size:13px;line-height:16px;transform:scaleX(0.9738);color:#434651">H<span class="v">2360.07</span></div>
<div class="t" style="left:452.3px;top:11.5px;font-size:13px;line-height:16px;transform:scaleX(0.9738);color:#434651">L<span class="v">2328.06</span></div>
<div class="t" style="left:511.4px;top:11.5px;font-size:13px;line-height:16px;transform:scaleX(0.9596);color:#434651">C<span class="v">2344.50</span></div>
<div class="t" style="left:573.1px;top:11.5px;font-size:13px;line-height:16px;transform:scaleX(0.8786);color:#434651"><span class="v">−8.41</span></div>
<div class="t" style="left:608.3px;top:11.5px;font-size:13px;line-height:16px;transform:scaleX(0.9000);color:#434651"><span class="v">(−0.36%)</span></div>
<!-- bid / ask -->
<div class="t" style="left:12px;top:35px;width:60px;height:22px;border:1px solid #f23645;border-radius:4px;background:#fff;color:#f23645;font-size:12.5px;line-height:25.4px;text-align:center">2344.49</div>
<div class="t" style="left:81.9px;top:40.2px;font-size:11.5px;line-height:14px;transform:scaleX(0.81);background:#fff;color:#131722">27</div>
<div class="t" style="left:101px;top:35px;width:60px;height:22px;border:1px solid #2962ff;border-radius:4px;background:#fff;color:#2962ff;font-size:12.5px;line-height:25.4px;text-align:center">2344.76</div>
<!-- indicator legend -->
<div class="t" style="left:13px;top:68px;font-size:12px;line-height:16px;letter-spacing:0.066px;color:#555">MA Ribbon SMA close 20 SMA close 50 SMA close 100 SMA close 200</div>
<div class="t" style="left:404.5px;top:67.3px;font-size:13px;line-height:16px;transform:scaleX(0.96);color:#f23645">2233.12</div>
<div class="t" style="left:456.2px;top:67.3px;font-size:13px;line-height:16px;transform:scaleX(0.96);color:#2962ff">2130.47</div>
<div class="t" style="left:508.7px;top:67.6px;font-size:12px;line-height:16px;transform:scaleX(0.75);color:#555">Ø</div>
<div class="t" style="left:522.4px;top:67.3px;font-size:13px;line-height:16px;transform:scaleX(0.96);color:#131722">2006.62</div>
<!-- collapse button -->
<div class="t" style="left:13px;top:89px;width:27px;height:19px;border:1px solid #d1d4dc;border-radius:2.5px;background:#fff"></div>
<svg style="left:20.45px;top:94.2px" width="14" height="10" viewBox="0 0 14 10"><path d="M2.7 7.3L7 3L11.3 7.3" fill="none" stroke="#131722" stroke-width="1.3"/></svg>
<!-- ATR / CCI legends -->
<div class="t" style="left:13px;top:694px;font-size:12px;line-height:16px;transform:scaleX(0.958);color:#555">ATR 14 RMA</div>
<div class="t" style="left:88.8px;top:693.5px;font-size:13px;line-height:16px;transform:scaleX(0.96);color:#b22833">31.42</div>
<div class="t" style="left:13px;top:732.5px;font-size:12px;line-height:16px;color:#555">CCI 20 hlc3 SMA 5</div>
<div class="t" style="left:123.8px;top:733.2px;font-size:13px;line-height:16px;transform:scaleX(0.96);color:#2962ff">127.20</div>
<!-- USD selector -->
<div class="t" style="left:1451px;top:7px;width:50px;height:24px;border:1px solid #e0e3eb;border-radius:4px;background:#fff"></div>
<div class="t" style="left:1455.5px;top:11.7px;font-size:12px;line-height:16px;transform:scaleX(0.8);color:#131722">USD</div>
<svg style="left:1491.3px;top:17.3px" width="8" height="6" viewBox="0 0 8 6"><path d="M1.4 1.6L4 4.1L6.6 1.6" fill="none" stroke="#131722" stroke-width="1.2"/></svg>
<!-- TV logo -->
<svg style="left:13px;top:773px" width="36" height="20" viewBox="0 0 36 20"><g stroke="#fff" stroke-width="4" stroke-linejoin="miter" fill="#fff"><path d="M3 2.06h12v14.74H9.1V7.85H3z"/><circle cx="20" cy="5" r="2.93"/><path d="M20.2 16.8L26.4 2.06H32.9L26.8 16.8z"/></g><g fill="#131722"><path d="M3 2.06h12v14.74H9.1V7.85H3z"/><circle cx="20" cy="5" r="2.93"/><path d="M20.2 16.8L26.4 2.06H32.9L26.8 16.8z"/></g></svg>

<svg width="1510" height="835" viewBox="0 0 1510 835" style="left:0;top:0">
<g fill="none" stroke="#131722" stroke-width="1.2"><path d="M1473.7 812.6h7.4l3.7 5.8-3.7 5.8h-7.4l-3.7-5.8z"/><circle cx="1477.4" cy="818.4" r="2"/></g>
<g font-family="Liberation Sans, sans-serif" font-weight="bold" font-style="italic" opacity="0.86">
<text transform="translate(1285.4,831.4) scale(1.06,1)" text-anchor="middle" font-size="36" fill="#839bd0" fill-opacity="1">z</text><text transform="translate(1312.1000000000001,831.4) scale(1.06,1)" text-anchor="middle" font-size="36" fill="#839bd0" fill-opacity="1">z</text><text transform="translate(1338.1000000000001,831.4) scale(1.0,1)" text-anchor="middle" font-size="36" fill="#839bd0" fill-opacity="1">r</text><text transform="translate(1361.3000000000002,831.4) scale(1.08,1)" text-anchor="middle" font-size="33" fill="#839bd0" fill-opacity="1">t</text><text transform="translate(1385.3000000000002,831.4) scale(1.11,1)" text-anchor="middle" font-size="32.5" fill="#839bd0" fill-opacity="1">0</text><text transform="translate(1415.9,831.4) scale(1.0,1)" text-anchor="middle" font-size="32.5" fill="#839bd0" fill-opacity="1">1</text><text transform="translate(1438.2,831.4) scale(1.1,1)" text-anchor="middle" font-size="36" fill="#839bd0" fill-opacity="1">.</text><text transform="translate(1463.2,831.4) scale(0.98,1)" text-anchor="middle" font-size="36" fill="#839bd0" fill-opacity="1">c</text><text transform="translate(1491.2,831.4) scale(0.92,1)" text-anchor="middle" font-size="36" fill="#839bd0" fill-opacity="1">n</text>
<text transform="translate(1284,830) scale(1.06,1)" text-anchor="middle" font-size="36" fill="#78beff" fill-opacity="1">z</text><text transform="translate(1310.7,830) scale(1.06,1)" text-anchor="middle" font-size="36" fill="#78beff" fill-opacity="1">z</text><text transform="translate(1336.7,830) scale(1.0,1)" text-anchor="middle" font-size="36" fill="#78beff" fill-opacity="1">r</text><text transform="translate(1359.9,830) scale(1.08,1)" text-anchor="middle" font-size="33" fill="#78beff" fill-opacity="1">t</text><text transform="translate(1383.9,830) scale(1.11,1)" text-anchor="middle" font-size="32.5" fill="#78beff" fill-opacity="1">0</text><text transform="translate(1414.5,830) scale(1.0,1)" text-anchor="middle" font-size="32.5" fill="#78beff" fill-opacity="1">1</text><text transform="translate(1436.8,830) scale(1.1,1)" text-anchor="middle" font-size="36" fill="#78beff" fill-opacity="1">.</text><text transform="translate(1461.8,830) scale(0.98,1)" text-anchor="middle" font-size="36" fill="#78beff" fill-opacity="1">c</text><text transform="translate(1489.8,830) scale(0.92,1)" text-anchor="middle" font-size="36" fill="#78beff" fill-opacity="1">n</text>
</g></svg>
<svg width="1510" height="835" viewBox="0 0 1510 835" style="left:0;top:0">
<defs><filter id="sh" x="-5%" y="-10%" width="110%" height="125%">
<feOffset in="SourceAlpha" dx="2.1" dy="2.1" result="o"/>
<feGaussianBlur in="o" stdDeviation="1.0" result="b"/>
<feComposite in="b" in2="SourceAlpha" operator="out" result="so"/>
<feComponentTransfer in="so" result="s"><feFuncA type="linear" slope="0.55"/></feComponentTransfer>
<feComponentTransfer in="SourceGraphic" result="w"><feFuncA type="linear" slope="0.55"/></feComponentTransfer>
<feMerge><feMergeNode in="s"/><feMergeNode in="w"/></feMerge>
</filter></defs>
<g filter="url(#sh)" fill="#fff" stroke="#fff" stroke-width="1.04" stroke-linejoin="round"><g transform="translate(1258.5,791.2) skewX(-14)"><text x="0" y="0" font-size="58" font-weight="bold" letter-spacing="2.3" font-family="'Liberation Sans','Noto Sans CJK SC',sans-serif">海马财经</text></g></g>
</svg>
</body></html>
